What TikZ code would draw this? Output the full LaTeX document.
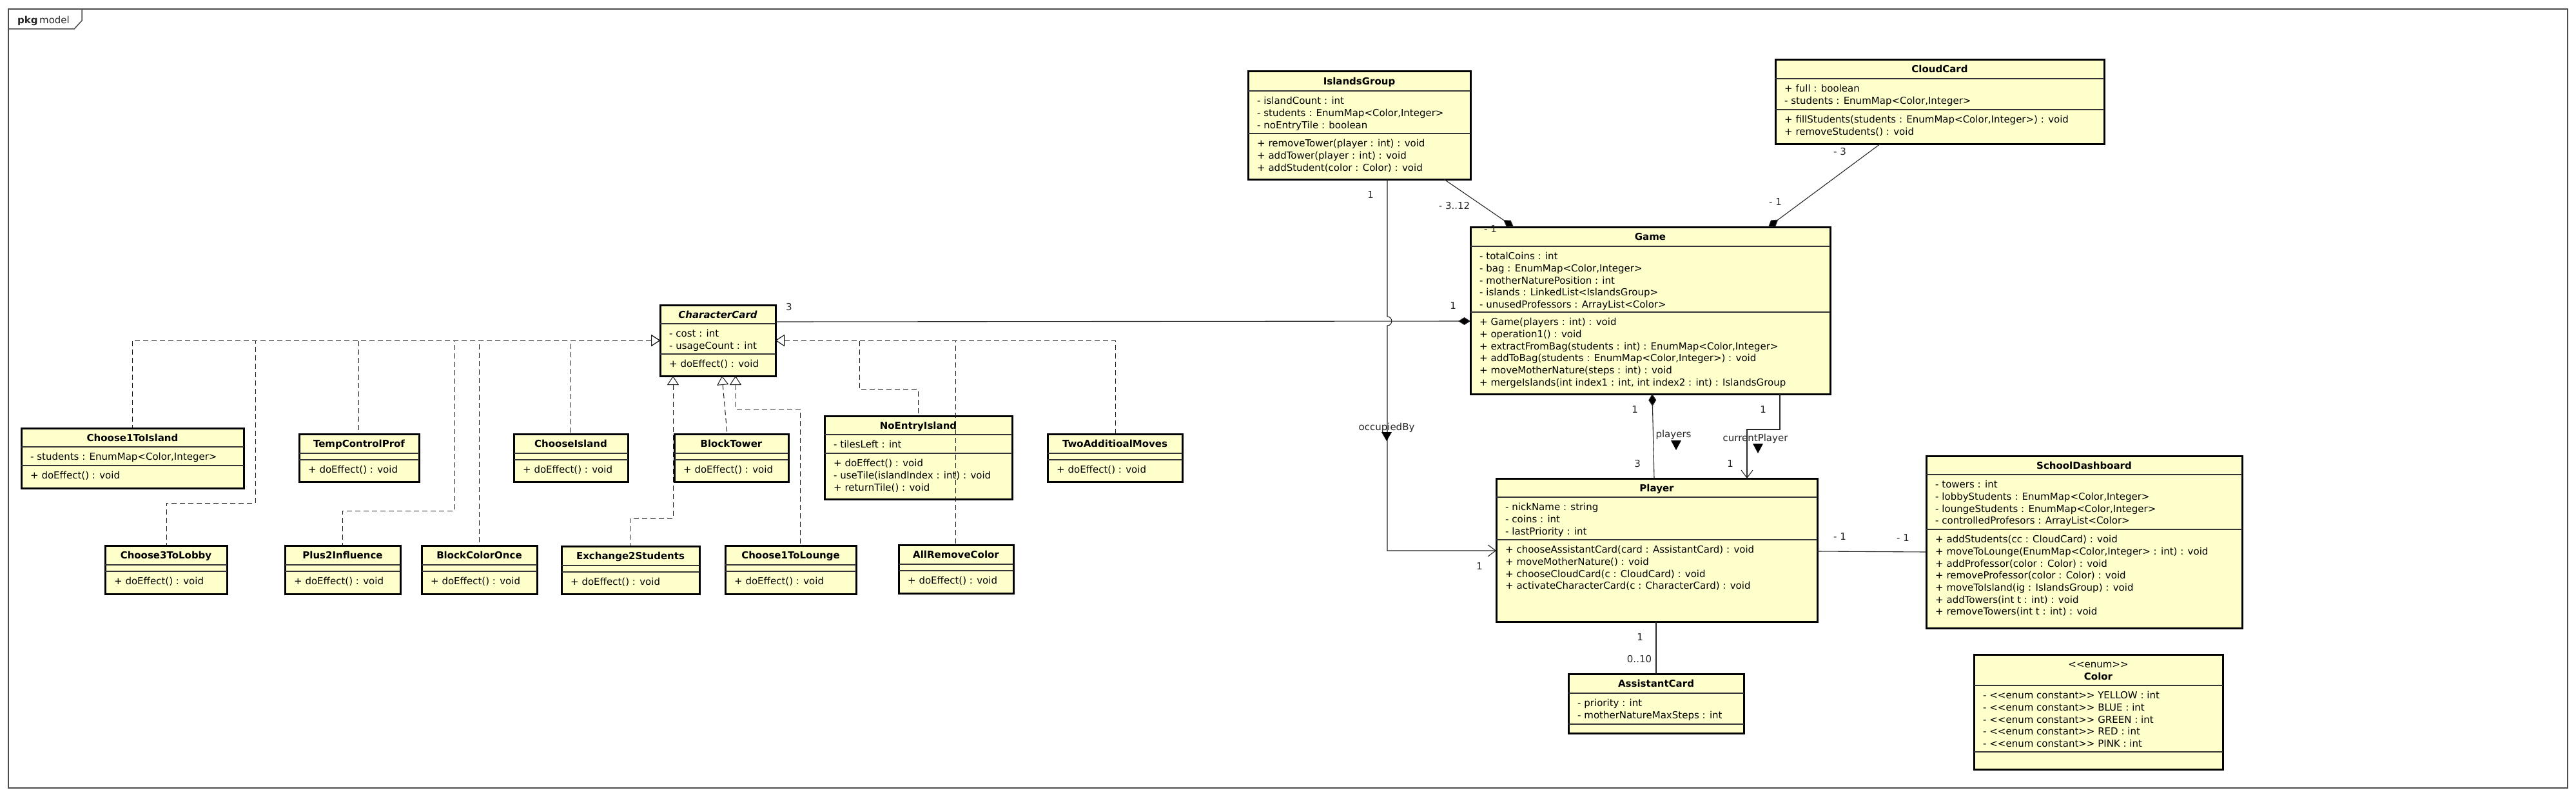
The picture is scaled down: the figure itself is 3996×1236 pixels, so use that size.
\documentclass[tikz,border=0pt]{standalone}
\usepackage{fontspec}
\setmainfont{DejaVu Sans}
\usetikzlibrary{arrows.meta,calc}
\definecolor{clsfill}{HTML}{FFFFCC}
\definecolor{lnc}{HTML}{333333}
\tikzset{
 clsbox/.style={draw=black, line width=3pt, fill=clsfill, inner sep=0pt, outer sep=0pt},
 divline/.style={draw=lnc, line width=1.2pt},
 clstitle/.style={anchor=base, inner sep=0pt, font=\fontsize{15}{18.7}\selectfont\bfseries},
 clstext/.style={anchor=north west, align=left, inner sep=0pt, font=\fontsize{15}{18.7}\selectfont},
 lbl/.style={inner sep=0pt, font=\fontsize{15}{18.7}\selectfont, text=black!85},
 assoc/.style={draw=black!85, line width=1.1pt},
 realr/.style={draw=black!90, line width=1pt, dash pattern=on 8pt off 5pt, {Triangle[length=14pt,width=18pt,fill=white,line width=1pt]}-},
 comp/.style={assoc, {Diamond[length=19pt,width=12pt,fill=black]}-},
 nav/.style={assoc, -{Straight Barb[length=12pt,width=18pt,line width=1.1pt]}},
 framest/.style={draw=black!70, line width=1.5pt},
}
\newcommand\umlclass[8]{%
 \node[clsbox, minimum width={(#4-#2)*1pt}, minimum height={(#5-#3)*1pt}] (#1) at ({(#2+#4)/2},{(#3+#5)/2}) {};
 \draw[divline] (#2,#6) -- (#4,#6) (#2,#7) -- (#4,#7);
 \node[clstitle] (#1-t) at ({(#2+#4)/2},{(#3+#6)/2+5.5}) {#8};
}
\newcommand\umltext[4]{%
 \node[clstext] (#1) at (#2+14,#3+8.5) {\rule{0pt}{12pt}#4};
}
\newcommand\enumc{<{}<enum constant>{}>}
\begin{document}
\begin{tikzpicture}[x=1pt,y=-1pt]
\useasboundingbox (0,0) rectangle (3996,1236);
\fill[white] (0,0) rectangle (3996,1236);
% frame
\draw[framest] (13,14) rectangle (3983,1222);
\draw[framest] (13,45) -- (115,45) -- (127,32) -- (127,14);
\node[lbl, anchor=base west] (pkg) at (27,37) {\textbf{pkg}\,model};

% classes
\umlclass{C1I}{33}{664}{378}{757}{693}{722}{Choose1ToIsland}
\umltext{C1I-a}{33}{693}{- students : EnumMap<Color,Integer>}
\umltext{C1I-o}{33}{722}{+ doEffect() : void}

\umlclass{TCP}{464}{673}{650}{747}{703}{713}{TempControlProf}
\umltext{TCP-o}{464}{713}{+ doEffect() : void}

\umlclass{C3L}{163}{846}{352}{921}{876}{886}{Choose3ToLobby}
\umltext{C3L-o}{163}{886}{+ doEffect() : void}

\umlclass{P2I}{442}{846}{621}{921}{876}{886}{Plus2Influence}
\umltext{P2I-o}{442}{886}{+ doEffect() : void}

\umlclass{BCO}{654}{846}{833}{921}{876}{886}{BlockColorOnce}
\umltext{BCO-o}{654}{886}{+ doEffect() : void}

\umlclass{CI}{797}{673}{974}{747}{703}{713}{ChooseIsland}
\umltext{CI-o}{797}{713}{+ doEffect() : void}

\umlclass{CC}{1024}{473}{1203}{583}{502}{549}{\itshape CharacterCard}
\umltext{CC-a}{1024}{502}{- cost : int\\- usageCount : int}
\umltext{CC-o}{1024}{549}{+ doEffect() : void}

\umlclass{BT}{1046}{673}{1223}{747}{703}{713}{BlockTower}
\umltext{BT-o}{1046}{713}{+ doEffect() : void}

\umlclass{E2S}{871}{847}{1085}{921}{877}{887}{Exchange2Students}
\umltext{E2S-o}{871}{887}{+ doEffect() : void}

\umlclass{C1L}{1125}{846}{1328}{921}{876}{886}{Choose1ToLounge}
\umltext{C1L-o}{1125}{886}{+ doEffect() : void}

\umlclass{NEI}{1279}{645}{1570}{774}{674}{703}{NoEntryIsland}
\umltext{NEI-a}{1279}{674}{- tilesLeft : int}
\umltext{NEI-o}{1279}{703}{+ doEffect() : void\\- useTile(islandIndex : int) : void\\+ returnTile() : void}

\umlclass{ARC}{1394}{845}{1572}{920}{875}{885}{AllRemoveColor}
\umltext{ARC-o}{1394}{885}{+ doEffect() : void}

\umlclass{TAM}{1625}{673}{1834}{747}{703}{713}{TwoAdditioalMoves}
\umltext{TAM-o}{1625}{713}{+ doEffect() : void}

\umlclass{IG}{1936}{111}{2281}{278}{141}{207}{IslandsGroup}
\umltext{IG-a}{1936}{141}{- islandCount : int\\- students : EnumMap<Color,Integer>\\- noEntryTile : boolean}
\umltext{IG-o}{1936}{207}{+ removeTower(player : int) : void\\+ addTower(player : int) : void\\+ addStudent(color : Color) : void}

\umlclass{CLC}{2754}{93}{3264}{223}{122}{170}{CloudCard}
\umltext{CLC-a}{2754}{122}{+ full : boolean\\- students : EnumMap<Color,Integer>}
\umltext{CLC-o}{2754}{170}{+ fillStudents(students : EnumMap<Color,Integer>) : void\\+ removeStudents() : void}

\umlclass{G}{2281}{352}{2839}{611}{382}{484}{Game}
\umltext{G-a}{2281}{382}{- totalCoins : int\\- bag : EnumMap<Color,Integer>\\- motherNaturePosition : int\\- islands : LinkedList<IslandsGroup>\\- unusedProfessors : ArrayList<Color>}
\umltext{G-o}{2281}{484}{+ Game(players : int) : void\\+ operation1() : void\\+ extractFromBag(students : int) : EnumMap<Color,Integer>\\+ addToBag(students : EnumMap<Color,Integer>) : void\\+ moveMotherNature(steps : int) : void\\+ mergeIslands(int index1 : int, int index2 : int) : IslandsGroup}

\umlclass{P}{2321}{742}{2819}{964}{771}{837}{Player}
\umltext{P-a}{2321}{771}{- nickName : string\\- coins : int\\- lastPriority : int}
\umltext{P-o}{2321}{837}{+ chooseAssistantCard(card : AssistantCard) : void\\+ moveMotherNature() : void\\+ chooseCloudCard(c : CloudCard) : void\\+ activateCharacterCard(c : CharacterCard) : void}

\umlclass{AC}{2433}{1045}{2705}{1137}{1075}{1123}{AssistantCard}
\umltext{AC-a}{2433}{1075}{- priority : int\\- motherNatureMaxSteps : int}

\umlclass{SD}{2988}{707}{3478}{974}{736}{821}{SchoolDashboard}
\umltext{SD-a}{2988}{736}{- towers : int\\- lobbyStudents : EnumMap<Color,Integer>\\- loungeStudents : EnumMap<Color,Integer>\\- controlledProfesors : ArrayList<Color>}
\umltext{SD-o}{2988}{821}{+ addStudents(cc : CloudCard) : void\\+ moveToLounge(EnumMap<Color,Integer> : int) : void\\+ addProfessor(color : Color) : void\\+ removeProfessor(color : Color) : void\\+ moveToIsland(ig : IslandsGroup) : void\\+ addTowers(int t : int) : void\\+ removeTowers(int t : int) : void}

\node[clsbox, minimum width=386pt, minimum height=178pt] (COL) at (3255,1104) {};
\draw[divline] (3062,1063) -- (3448,1063) (3062,1166) -- (3448,1166);
\node[lbl, align=center, text=black] (COL-t) at (3255,1040.5) {<{}<enum>{}>\\\textbf{Color}};
\umltext{COL-a}{3062}{1063}{- \enumc{} YELLOW : int\\- \enumc{} BLUE : int\\- \enumc{} GREEN : int\\- \enumc{} RED : int\\- \enumc{} PINK : int}

% realizations (left)
\draw[realr] (CC.west) -| ($(C1I.north west)+(172,0)$);
\draw[realr] (CC.west) -| (396,780) -| ($(C3L.north west)+(95,0)$);
\draw[realr] (CC.west) -| ($(TCP.north west)+(92,0)$);
\draw[realr] (CC.west) -| (705,792) -| ($(P2I.north west)+(89,0)$);
\draw[realr] (CC.west) -| ($(BCO.north west)+(89,0)$);
\draw[realr] (CC.west) -| ($(CI.north west)+(88,0)$);
% realizations (bottom)
\draw[realr] ($(CC.south west)+(20,0)$) |- (977,804) -- ($(E2S.north west)+(106,0)$);
\draw[realr] ($(CC.south west)+(96,0)$) -- ($(BT.north west)+(82,0)$);
\draw[realr] ($(CC.south west)+(117,0)$) |- (1241,634) -- ($(C1L.north west)+(116,0)$);
% realizations (right)
\draw[realr] (CC.east) -| (1333,604) -| ($(NEI.north west)+(145,0)$);
\draw[realr] (CC.east) -| ($(ARC.north west)+(88,0)$);
\draw[realr] (CC.east) -| ($(TAM.north west)+(105,0)$);

% associations
\draw[comp] ($(G.north west)+(0,146)$) -- ($(CC.north east)+(0,26)$);
\draw[comp] ($(G.north west)+(67,0)$) -- ($(IG.south west)+(304,0)$);
\draw[comp] ($(G.north west)+(462,0)$) -- ($(CLC.south west)+(163,0)$);
\draw[comp] ($(G.south west)+(282,0)$) -- ($(P.north west)+(245,0)$);
\draw[nav] ($(G.south west)+(480,0)$) -- ++(0,55) -| ($(P.north west)+(389,0)$);
\draw[nav] ($(IG.south west)+(216,0)$) -- (2152,491) .. controls (2161,491) and (2161,505) .. (2152,505) |- ($(P.north west)+(0,112)$);
\draw[assoc] ($(P.north east)+(0,113)$) -- ($(SD.north west)+(0,149)$);
\draw[assoc] ($(P.south west)+(248,0)$) -- ($(AC.north west)+(136,0)$);

% direction triangles
\fill[black] (2592,683) -- (2608,683) -- (2600,698) -- cycle;
\fill[black] (2719,688) -- (2735,688) -- (2727,703) -- cycle;
\fill[black] (2143,670) -- (2159,670) -- (2151,684) -- cycle;

% labels
\node[lbl] (m1) at (1224,476) {3};
\node[lbl] (m2) at (2254,474) {1};
\node[lbl] (m3) at (2126,302) {1};
\node[lbl] (m4) at (2256,319) {- 3..12};
\node[lbl] (m5) at (2312,355) {- 1};
\node[lbl] (m6) at (2854,235) {- 3};
\node[lbl] (m7) at (2754,313) {- 1};
\node[lbl] (m8) at (2536,635) {1};
\node[lbl] (m9) at (2540,719) {3};
\node[lbl] (m10) at (2596,674) {players};
\node[lbl] (m11) at (2735,635) {1};
\node[lbl] (m12) at (2684,719) {1};
\node[lbl] (m13) at (2723,680) {currentPlayer};
\node[lbl] (m14) at (2151,663) {occupiedBy};
\node[lbl] (m15) at (2295,878) {1};
\node[lbl] (m16) at (2854,832) {- 1};
\node[lbl] (m17) at (2952,834) {- 1};
\node[lbl] (m18) at (2544,988) {1};
\node[lbl] (m19) at (2543,1022) {0..10};
\end{tikzpicture}
\end{document}
